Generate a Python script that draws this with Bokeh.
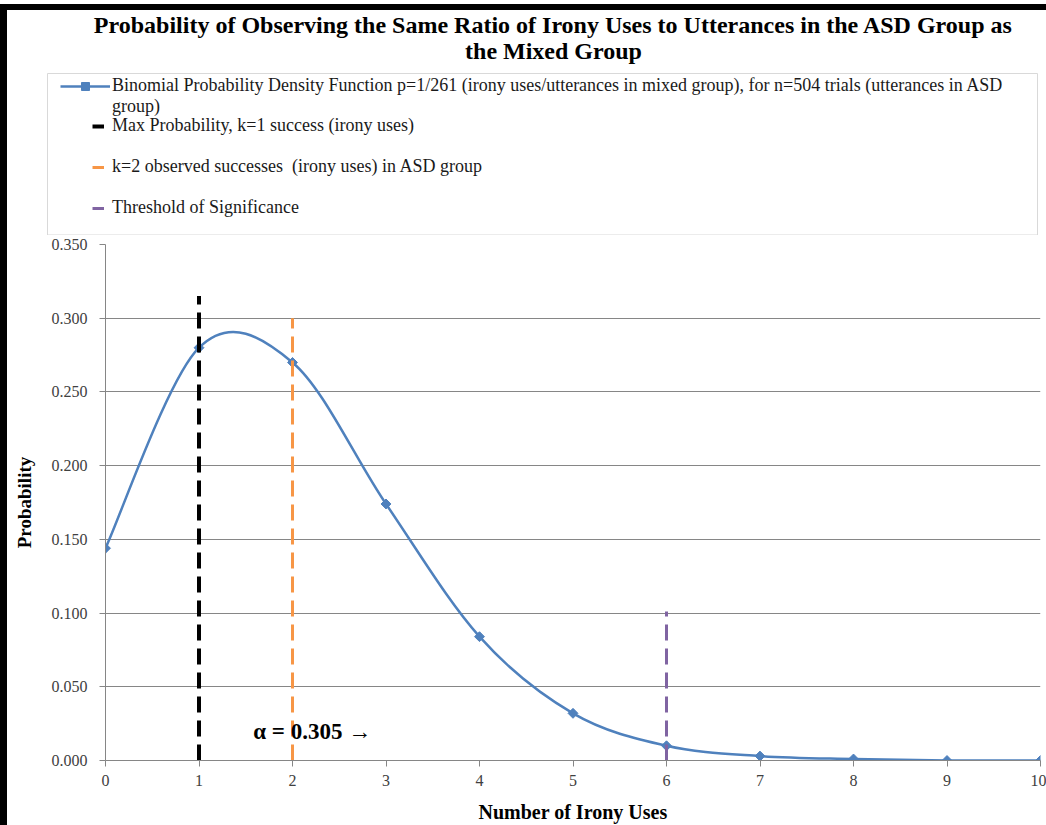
import math
from bokeh.plotting import figure
from bokeh.layouts import column
from bokeh.models import (Range1d, FixedTicker, NumeralTickFormatter, Legend,
                          LegendItem, Label, ColumnDataSource)
from bokeh.embed import file_html
from bokeh.resources import INLINE

# ---------------- data ----------------
title_lines = ["Probability of Observing the Same Ratio of Irony Uses to Utterances in the ASD Group as",
               "the Mixed Group"]
k_values = [0, 1, 2, 3, 4, 5, 6, 7, 8, 9, 10]
probabilities = [0.144, 0.280, 0.270, 0.174, 0.084, 0.032, 0.010, 0.003, 0.001, 0.000, 0.000]
pdf_label = ["Binomial Probability Density Function p=1/261 (irony uses/utterances in mixed group), for n=504 trials (utterances in ASD",
             "group)"]
vline_k = [1, 2, 6]
vline_top = [0.315, 0.300, 0.101]
vline_labels = ["Max Probability, k=1 success (irony uses)",
                "k=2 observed successes  (irony uses) in ASD group",
                "Threshold of Significance"]
vline_colors = ["#000000", "#F79646", "#8064A2"]
vline_widths = [4, 3, 3]
alpha_text = "\u03b1 = 0.305 \u2192"
alpha_pos = (1.58, 0.020)
y_ticks = [0.0, 0.05, 0.10, 0.15, 0.20, 0.25, 0.30, 0.35]
x_ticks = k_values

SERIF = "Liberation Serif"
BLUE = "#4F81BD"
GRID = "#868686"
W = 1039
H_HEAD = 225
H_MAIN = 590
NAN = float("nan")

# ---------------- header: title + legend ----------------
h = figure(width=W, height=H_HEAD, output_backend="svg", toolbar_location=None,
           x_range=Range1d(0, W), y_range=Range1d(H_HEAD, 0),
           x_axis_type=None, y_axis_type=None, min_border=0)
h.frame_align = False
h.outline_line_color = None
h.grid.visible = False
h.background_fill_color = "white"
h.border_fill_color = "white"

for txt, yy in zip(title_lines, (14, 40)):
    h.add_layout(Label(x=546, y=yy, text=txt, text_font=SERIF, text_font_size="24px",
                       text_font_style="bold", text_align="center", text_baseline="middle",
                       text_color="#000000"))

# legend frame
h.quad(left=[40], right=[1030], top=[63], bottom=[224.5], fill_color="white",
       line_color="#d9d9d9", line_width=1)

# legend keys carry the styles of the series drawn in the chart below
k_line = h.line(x=[NAN], y=[NAN], line_color=BLUE, line_width=2.5)
k_pts = h.scatter(x=[NAN], y=[NAN], marker="square", angle=math.pi / 4, size=7,
                  fill_color=BLUE, line_color=BLUE)
k_blank = h.line(x=[NAN], y=[NAN], line_alpha=0)
k_v = [h.line(x=[NAN], y=[NAN], line_color=c, line_width=w, line_dash="16 8")
       for c, w in zip(vline_colors, vline_widths)]

def style_legend(lg):
    lg.label_text_font = SERIF
    lg.label_text_font_size = "18px"
    lg.label_text_color = "#1a1a1a"
    lg.border_line_alpha = 0
    lg.background_fill_alpha = 0
    lg.padding = 0
    lg.margin = 0
    lg.glyph_height = 20
    lg.label_height = 20

leg_a = Legend(items=[LegendItem(label=pdf_label[0], renderers=[k_line, k_pts]),
                      LegendItem(label=pdf_label[1], renderers=[k_blank])],
               location=(53, 118))
style_legend(leg_a)
leg_a.glyph_width = 50
leg_a.spacing = 0
leg_a.label_standoff = 2

leg_b = Legend(items=[LegendItem(label=lab, renderers=[r]) for lab, r in zip(vline_labels, k_v)],
               location=(85, 17))
style_legend(leg_b)
leg_b.glyph_width = 12
leg_b.spacing = 20
leg_b.label_standoff = 8
h.add_layout(leg_a, "center")
h.add_layout(leg_b, "center")

# ---------------- main chart ----------------
p = figure(width=W, height=H_MAIN, output_backend="svg", toolbar_location=None,
           x_range=Range1d(0, 10), y_range=Range1d(0, 0.35),
           min_border_left=98, min_border_right=6, min_border_top=9, min_border_bottom=63,
           x_axis_label="Number of Irony Uses", y_axis_label="Probability")
p.frame_align = False
p.outline_line_color = None
p.background_fill_color = "white"
p.border_fill_color = "white"

# smoothed curve (Excel-style Catmull-Rom -> cubic Bezier)
n = len(k_values)
x0, y0, x1, y1, cx0, cy0, cx1, cy1 = [], [], [], [], [], [], [], []
for i in range(n - 1):
    pa = (k_values[i - 1], probabilities[i - 1]) if i > 0 else (k_values[i], probabilities[i])
    pb = (k_values[i], probabilities[i])
    pc = (k_values[i + 1], probabilities[i + 1])
    pd = (k_values[i + 2], probabilities[i + 2]) if i + 2 < n else pc
    x0.append(pb[0]); y0.append(pb[1]); x1.append(pc[0]); y1.append(pc[1])
    cx0.append(pb[0] + (pc[0] - pa[0]) / 6); cy0.append(pb[1] + (pc[1] - pa[1]) / 6)
    cx1.append(pc[0] - (pd[0] - pb[0]) / 6); cy1.append(pc[1] - (pd[1] - pb[1]) / 6)
p.bezier(x0=x0, y0=y0, x1=x1, y1=y1, cx0=cx0, cy0=cy0, cx1=cx1, cy1=cy1,
         line_color=BLUE, line_width=2.5)
p.scatter(k_values, probabilities, marker="square", angle=math.pi / 4, size=7,
          fill_color=BLUE, line_color=BLUE)

vsrc = ColumnDataSource(dict(k=vline_k, top=vline_top, base=[0] * len(vline_k),
                             color=vline_colors, width=vline_widths))
p.segment(x0="k", y0="base", x1="k", y1="top", source=vsrc,
          line_color="color", line_width="width", line_dash="16 8")

p.add_layout(Label(x=alpha_pos[0], y=alpha_pos[1], text=alpha_text, text_font=SERIF,
                   text_font_size="23px", text_font_style="bold", text_color="#000000",
                   text_baseline="middle", text_align="left"))

for ax in (p.xaxis[0], p.yaxis[0]):
    ax.axis_line_color = GRID
    ax.major_tick_line_color = GRID
    ax.major_tick_out = 6
    ax.major_tick_in = 0
    ax.minor_tick_line_color = None
    ax.major_label_text_font = SERIF
    ax.major_label_text_font_size = "16px"
    ax.major_label_text_color = "#404040"
    ax.axis_label_text_font = SERIF
    ax.axis_label_text_font_style = "bold"
    ax.axis_label_text_color = "#000000"
p.xaxis.ticker = FixedTicker(ticks=x_ticks)
p.yaxis.ticker = FixedTicker(ticks=y_ticks)
p.yaxis.formatter = NumeralTickFormatter(format="0.000")
p.xaxis.major_label_standoff = 8
p.yaxis.major_label_standoff = 12
p.xaxis.axis_label_text_font_size = "20px"
p.yaxis.axis_label_text_font_size = "19px"
p.xaxis.axis_label_standoff = 12
p.yaxis.axis_label_standoff = 14
p.xgrid.visible = False
p.ygrid.grid_line_color = GRID
p.ygrid.grid_line_width = 1

layout = column(h, p, spacing=0,
                styles={"margin-top": "4px",
                        "border-left": "7px solid #000000",
                        "border-top": "6px solid #000000"})

open("out.html", "w").write(file_html(layout, INLINE))
